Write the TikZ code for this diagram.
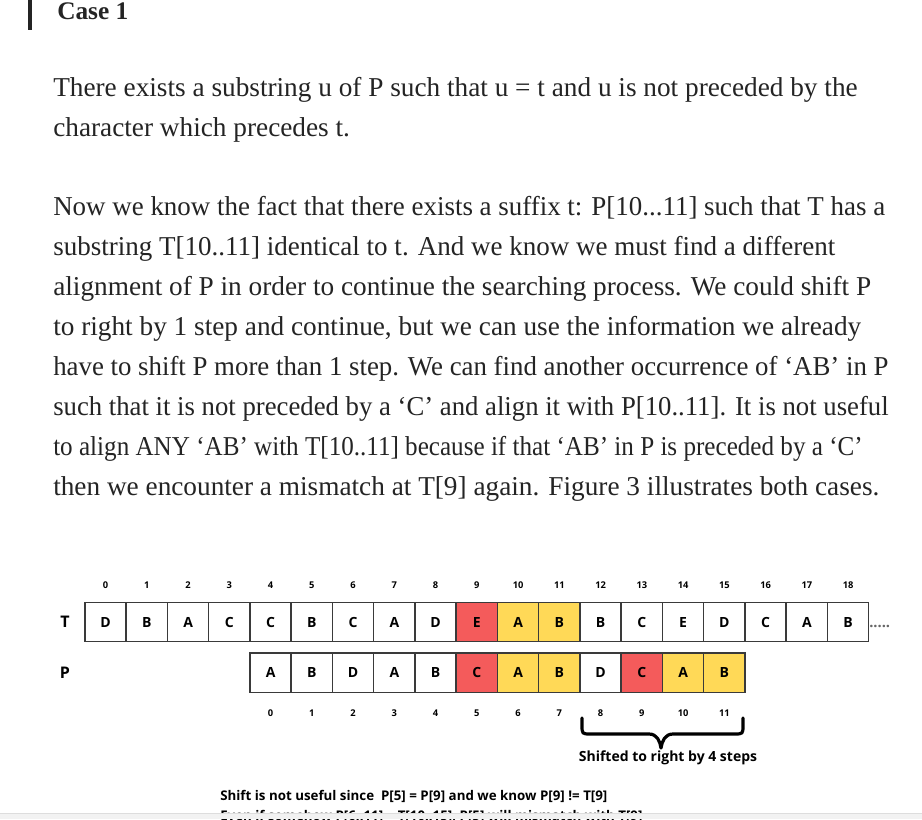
\documentclass[tikz,border=0pt]{standalone}
\usepackage{graphicx}
\usepackage{fontspec}
\setmainfont{Liberation Serif}
\newfontfamily\diagfont{Open Sans}
\usetikzlibrary{positioning}
\definecolor{inktext}{HTML}{242424}
\definecolor{cellred}{HTML}{F45B5B}
\definecolor{cellyel}{HTML}{FFD957}
\definecolor{cellline}{HTML}{3A3A3A}
\definecolor{barfill}{HTML}{F2F2F2}
\definecolor{barline}{HTML}{DDDDDD}
\newcommand{\linefit}[2]{\scalebox{#1}[1]{#2}}

\tikzset{
  bodyline/.style={anchor=base west, inner sep=0pt, text=inktext, font=\fontsize{20.45pt}{24pt}\selectfont},
  cellbox/.style={draw=cellline, line width=1.1pt, minimum width=30.94pt, minimum height=29.6pt, inner sep=0pt, font=\diagfont\bfseries\fontsize{10.5pt}{12pt}\selectfont},
  idxlabel/.style={inner sep=0pt, font=\diagfont\bfseries\fontsize{7pt}{8pt}\selectfont},
  rowlabel/.style={inner sep=0pt, font=\diagfont\bfseries\fontsize{12pt}{14pt}\selectfont},
  notelabel/.style={anchor=base west, inner sep=0pt, font=\diagfont\bfseries\fontsize{10pt}{12pt}\selectfont},
}

\begin{document}
\begin{tikzpicture}[x=0.75pt,y=-0.75pt]
\useasboundingbox (0,0) rectangle (922,819);
\fill[white] (0,0) rectangle (922,819);

% heading
\fill[inktext] (28,0) rectangle (31.5,30);
\node[bodyline, font=\bfseries\fontsize{19pt}{22pt}\selectfont] (casetitle) at (57,19) {Case 1};

% text
\node[bodyline] (l1) at (53,96) {There exists a substring u of P such that u = t and u is not preceded by the};
\node[bodyline] (l2) at (53,136) {character which precedes t.};
\node[bodyline] (l3) at (53,215) {\linefit{0.988}{Now we know the fact that there exists a suffix t: P[10...11] such that T has a}};
\node[bodyline] (l4) at (53,255) {\linefit{0.991}{substring T[10..11] identical to t. And we know we must find a different}};
\node[bodyline] (l5) at (53,295) {alignment of P in order to continue the searching process. We could shift P};
\node[bodyline] (l6) at (53,335) {to right by 1 step and continue, but we can use the information we already};
\node[bodyline] (l7) at (53,375) {\linefit{0.984}{have to shift P more than 1 step. We can find another occurrence of ‘AB’ in P}};
\node[bodyline] (l8) at (53,415) {\linefit{0.98}{such that it is not preceded by a ‘C’ and align it with P[10..11]. It is not useful}};
\node[bodyline] (l9) at (53,455) {\linefit{0.921}{to align ANY ‘AB’ with T[10..11] because if that ‘AB’ in P is preceded by a ‘C’}};
\node[bodyline] (l10) at (53,495) {then we encounter a mismatch at T[9] again. Figure 3 illustrates both cases.};

% text row T
\foreach \c/\f [count=\i from 0] in {D/white,B/white,A/white,C/white,C/white,B/white,C/white,A/white,D/white,E/cellred,A/cellyel,B/cellyel,B/white,C/white,E/white,D/white,C/white,A/white,B/white}{
  \node[cellbox, fill=\f] (t\i) at ({105.6+41.25*\i},622) {\c};
  \node[idxlabel, above=9.5pt of t\i] (ti\i) {\i};
}
\node[rowlabel] (tlab) at (65,622) {T};
\node[anchor=base west, inner sep=0pt, text=black!60, font=\diagfont\bfseries\fontsize{11pt}{12pt}\selectfont] (dots) at (869,627) {.....};

% pattern row P
\foreach \c/\f [count=\i from 0] in {A/white,B/white,D/white,A/white,B/white,C/cellred,A/cellyel,B/cellyel,D/white,C/cellred,A/cellyel,B/cellyel}{
  \node[cellbox, fill=\f] (p\i) at ({270.6+41.25*\i},672.7) {\c};
  \node[idxlabel, below=12pt of p\i] (pi\i) {\i};
}
\node[rowlabel] (plab) at (65,672.7) {P};

% brace
\draw[line width=2.4pt, line cap=round, line join=round] (582,718) -- (582,725) .. controls (582,734) .. (591,734) -- (649,734) .. controls (657,734) and (660,741) .. (661,748) .. controls (662,741) and (665,734) .. (673,734) -- (734,734) .. controls (743,734) .. (743,725) -- (743,718);
\node[inner sep=0pt, font=\diagfont\bfseries\fontsize{10.5pt}{12pt}\selectfont] (shiftnote) at (668,758) {Shifted to right by 4 steps};

% notes
\node[notelabel] (note1) at (220,800) {Shift is not useful since\ \ P[5] = P[9] and we know P[9] != T[9]};
\node[notelabel] (note2) at (220,820) {Even if somehow P[6..11] = T[10..15], P[5] will mismatch with T[9]};

\fill[barfill] (0,813) rectangle (922,819);
\draw[barline, line width=0.6pt] (0,813) -- (922,813);
\end{tikzpicture}
\end{document}
